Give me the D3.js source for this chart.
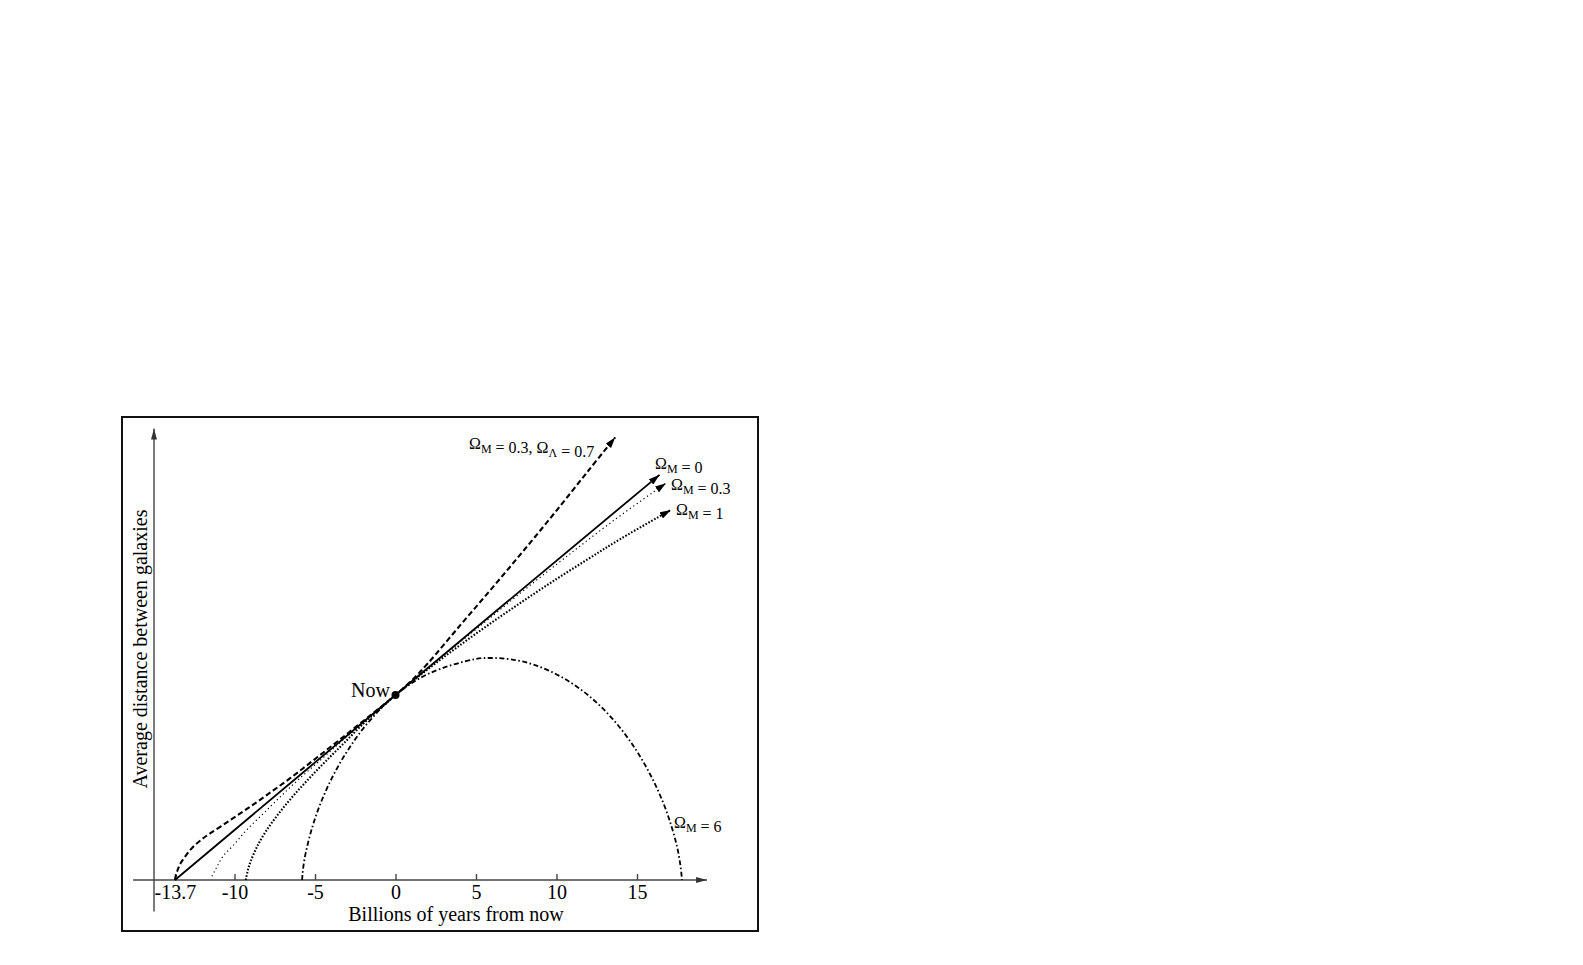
<!DOCTYPE html>
<html>
<head>
<meta charset="utf-8">
<script src="https://cdn.jsdelivr.net/npm/d3@7"></script>
<style>
  body { margin: 0; background: #fff; }
  svg { display: block; }
  text { font-family: "Liberation Serif", "DejaVu Serif", serif; fill: #000; }
</style>
</head>
<body>
<script>
// ---------- data ----------
const xTicks = [-13.7, -10, -5, 0, 5, 10, 15];
const xTickLabels = ["-13.7", "-10", "-5", "0", "5", "10", "15"];

// Omega_M = 0 (empty universe, straight line)
const seriesOm0 = [[-13.7, 0], [0, 1], [16.4, 2.19]];

// Omega_M = 0.3, Omega_Lambda = 0.7 (dashed)
const seriesLambda = [[-13.7, 0], [-13.55, 0.05], [-13.35, 0.09], [-13.0, 0.135], [-12.56, 0.18],
  [-12.0, 0.222], [-11.5, 0.253], [-10.5, 0.31], [-9.5, 0.368], [-8.5, 0.428], [-7.5, 0.49],
  [-6.5, 0.553], [-5.5, 0.62], [-4.5, 0.688], [-3.5, 0.756], [-2.5, 0.825], [-1.5, 0.894],
  [-0.7, 0.95], [0, 1], [1, 1.078], [2, 1.17], [4, 1.375], [6, 1.578], [8, 1.785], [10, 1.997],
  [12, 2.215], [13.65, 2.393]];

// Omega_M = 0.3 (fine dotted)
const seriesOm03 = [[-11.4, 0.02], [-11.1, 0.07], [-10.7, 0.13], [-10.1, 0.185], [-9.25, 0.27],
  [-8.2, 0.36], [-7.15, 0.45], [-6.0, 0.545], [-4.7, 0.645], [-3.6, 0.73], [-2.4, 0.82],
  [-1.2, 0.91], [0, 1], [1.5, 1.108], [3.3, 1.236], [5.5, 1.39], [7.8, 1.554], [10.5, 1.74],
  [13.5, 1.94], [16.8, 2.145]];

// Omega_M = 1 (heavy dotted)
const seriesOm1 = [[-9.3, 0], [-9.15, 0.06], [-9.0, 0.1], [-8.6, 0.18], [-8.0, 0.27], [-7.2, 0.365],
  [-6.3, 0.46], [-5.3, 0.555], [-4.3, 0.645], [-3.2, 0.74], [-2.0, 0.845], [-1.0, 0.922], [0, 1],
  [2, 1.139], [4, 1.269], [6, 1.393], [8, 1.512], [10, 1.627], [12, 1.737], [14, 1.845], [17.1, 2.0]];

// Omega_M = 6 (dash-dot, recollapsing)
const seriesOm6 = [[-5.8, 0], [-5.78, 0.027], [-5.72, 0.074], [-5.59, 0.141], [-5.2, 0.276],
  [-4.67, 0.411], [-3.91, 0.558], [-2.92, 0.707], [-1.71, 0.85], [0, 1], [2.03, 1.114],
  [4.93, 1.194], [5.99, 1.2], [7.18, 1.1925], [8.66, 1.162], [10.42, 1.092], [12.06, 0.992],
  [13.51, 0.868], [14.76, 0.727], [15.78, 0.577], [16.57, 0.43], [17.13, 0.293], [17.5, 0.175],
  [17.69, 0.083], [17.77, 0.024], [17.79, 0]];

const nowPoint = [0, 1];

// ---------- drawing ----------
const W = 1583, H = 965;
const svg = d3.select("body").append("svg").attr("width", W).attr("height", H);

const x = d3.scaleLinear().domain([-15, 20]).range([154, 717.5]);
const y = d3.scaleLinear().domain([0, 2.5]).range([880, 417.5]);

const defs = svg.append("defs");
function arrowMarker(id, len, wid, color) {
  defs.append("marker")
    .attr("id", id)
    .attr("markerUnits", "userSpaceOnUse")
    .attr("viewBox", `0 0 ${len} ${wid}`)
    .attr("markerWidth", len).attr("markerHeight", wid)
    .attr("refX", len).attr("refY", wid / 2)
    .attr("orient", "auto")
    .append("path")
    .attr("d", `M0,0 L${len},${wid / 2} L0,${wid} Z`)
    .attr("fill", color);
}
arrowMarker("arr", 11, 7, "#000");
arrowMarker("axarr", 11, 6, "#333");

// frame
svg.append("rect")
  .attr("x", 122).attr("y", 417).attr("width", 636).attr("height", 514)
  .attr("fill", "none").attr("stroke", "#111").attr("stroke-width", 2);

// axes lines with arrows
svg.append("line")
  .attr("x1", x(-16.3)).attr("x2", x(19.35))
  .attr("y1", y(0)).attr("y2", y(0))
  .attr("stroke", "#444").attr("stroke-width", 1.4)
  .attr("marker-end", "url(#axarr)");
svg.append("line")
  .attr("x1", x(-15)).attr("x2", x(-15))
  .attr("y1", y(-0.17)).attr("y2", y(2.44))
  .attr("stroke", "#444").attr("stroke-width", 1.4)
  .attr("marker-end", "url(#axarr)");

// x ticks
const xAxis = d3.axisBottom(x)
  .tickValues(xTicks)
  .tickFormat((d, i) => xTickLabels[i])
  .tickSizeInner(-6).tickSizeOuter(0).tickPadding(5);
const gx = svg.append("g").attr("transform", `translate(0,${y(0)})`).call(xAxis);
gx.select(".domain").remove();
gx.selectAll(".tick line").attr("stroke", "#444").attr("stroke-width", 1.4);
gx.selectAll(".tick text")
  .attr("font-family", "Liberation Serif, serif")
  .attr("font-size", 20).attr("fill", "#000");
gx.attr("font-family", null).attr("font-size", null);

// axis titles
svg.append("text")
  .attr("x", 456).attr("y", 920.5)
  .attr("text-anchor", "middle")
  .attr("font-size", 20)
  .text("Billions of years from now");
svg.append("text")
  .attr("transform", `translate(147,649) rotate(-90)`)
  .attr("text-anchor", "middle")
  .attr("font-size", 20)
  .text("Average distance between galaxies");

// curves
const line = d3.line().x(d => x(d[0])).y(d => y(d[1])).curve(d3.curveCatmullRom.alpha(0.5));

function drawCurve(data, opts) {
  svg.append("path")
    .datum(data)
    .attr("d", line)
    .attr("fill", "none")
    .attr("stroke", "#000")
    .attr("stroke-width", opts.w)
    .attr("stroke-dasharray", opts.dash || null)
    .attr("stroke-linecap", opts.cap || "butt")
    .attr("marker-end", opts.arrow ? "url(#arr)" : null);
}

drawCurve(seriesOm6, { w: 1.8, dash: "5,2.5,1.6,2.5" });
drawCurve(seriesOm1, { w: 2.1, dash: "1.6,1.7", arrow: true });
drawCurve(seriesOm03, { w: 1.2, dash: "1.2,3", arrow: true });
drawCurve(seriesLambda, { w: 2.1, dash: "5.5,3", arrow: true });
drawCurve(seriesOm0, { w: 1.8, arrow: true });

// now point
svg.append("circle")
  .attr("cx", x(nowPoint[0])).attr("cy", y(nowPoint[1]))
  .attr("r", 4).attr("fill", "#000");
svg.append("text")
  .attr("x", x(nowPoint[0]) - 5.5).attr("y", y(nowPoint[1]) + 1.5)
  .attr("text-anchor", "end")
  .attr("font-size", 20)
  .text("Now");

// curve labels (Omega with subscripts)
function omegaLabel(px, py, parts) {
  const t = svg.append("text").attr("x", px).attr("y", py).attr("font-size", 16);
  parts.forEach(p => {
    if (p.sub) {
      t.append("tspan").attr("dy", 4).attr("font-size", 12).text(p.sub);
      t.append("tspan").attr("dy", -4).text("");
    } else {
      t.append("tspan").text(p.t);
    }
  });
}
omegaLabel(469, 449, [{ t: "Ω" }, { sub: "M" }, { t: " = 0.3, Ω" }, { sub: "Λ" }, { t: " = 0.7" }]);
omegaLabel(655, 469, [{ t: "Ω" }, { sub: "M" }, { t: " = 0" }]);
omegaLabel(671, 490, [{ t: "Ω" }, { sub: "M" }, { t: " = 0.3" }]);
omegaLabel(676, 515, [{ t: "Ω" }, { sub: "M" }, { t: " = 1" }]);
omegaLabel(674, 828, [{ t: "Ω" }, { sub: "M" }, { t: " = 6" }]);
</script>
</body>
</html>
